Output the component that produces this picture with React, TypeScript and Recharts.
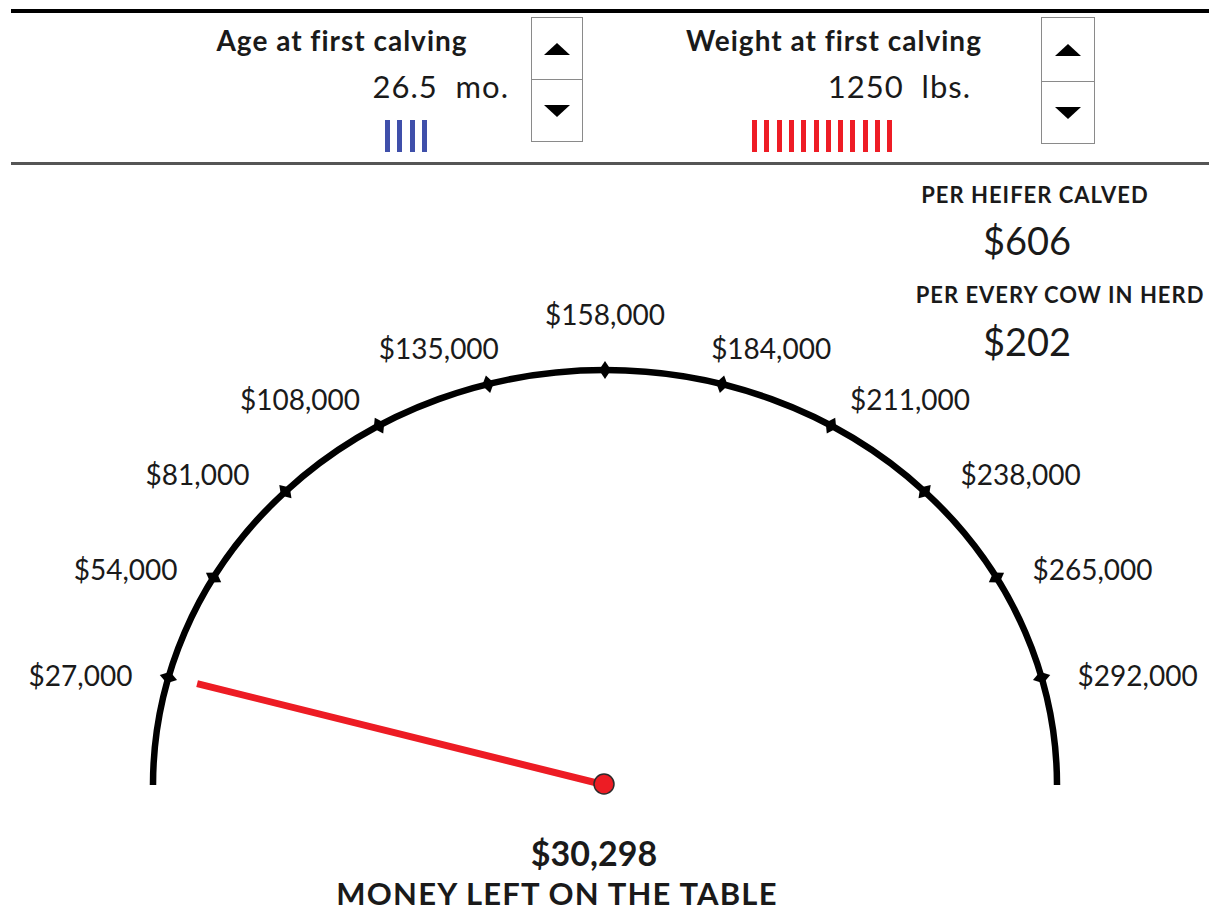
import React from 'react';
import {RadialBarChart, RadialBar, PolarAngleAxis} from 'recharts';

// dial labels, one on each step of the dial (steps 1..11 of 12)
const tickLabels = ['$27,000', '$54,000', '$81,000', '$108,000', '$135,000', '$158,000',
  '$184,000', '$211,000', '$238,000', '$265,000', '$292,000'];
const tickSteps = [1, 2, 3, 4, 5, 6, 7, 8, 9, 10, 11];
const dialSteps = 12;
// where the needle sits on the dial
const needleStep = 1.01;

const moneyLeft = '$30,298';
const perHeifer = '$606';
const perCow = '$202';
const ageValue = '26.5';
const weightValue = '1250';
const ageBars = 4;
const weightBars = 12;

const dialData = [
  {part: 'needle', step: needleStep},
  {part: 'dial', step: dialSteps},
];

const W = 1209;
const H = 912;
const CX = 605;
const CY = 785;
const RX = 452;
const RY = 415;
const FONT = 'Lato, "Open Sans", sans-serif';
const RAD = Math.PI / 180;

const pt = (cx: number, cy: number, a: number, k = 1) =>
  [cx + k * RX * Math.cos(a * RAD), cy - k * RY * Math.sin(a * RAD)];

const DialShape = (props: any) => {
  const cx = props.cx ?? CX;
  const cy = props.cy ?? CY;
  const {startAngle, endAngle, payload} = props;
  if (payload && payload.part === 'dial') {
    const mid = (startAngle + endAngle) / 2;
    const [x0, y0] = pt(cx, cy, startAngle);
    const [x1, y1] = pt(cx, cy, mid);
    const [x2, y2] = pt(cx, cy, endAngle);
    return (
      <path d={`M${x0},${y0} A${RX},${RY} 0 0 1 ${x1},${y1} A${RX},${RY} 0 0 1 ${x2},${y2}`}
            fill="none" stroke="#000" strokeWidth={6.5}/>
    );
  }
  const [nx, ny] = pt(cx, cy, endAngle, 0.935);
  return (
    <g>
      <line x1={cx} y1={cy} x2={nx} y2={ny} stroke="#ED1C24" strokeWidth={7}/>
      <circle cx={cx - 1} cy={cy - 1} r={10} fill="#ED1C24" stroke="#2b2b2b" strokeWidth={1.5}/>
    </g>
  );
};

const DialTick = (props: any) => {
  const {payload, index} = props;
  let a = payload?.coordinate;
  if (typeof a !== 'number') a = Math.atan2(CY - props.y, props.x - CX) / RAD;
  const [x, y] = pt(CX, CY, a);
  const c = Math.cos(a * RAD);
  const s = Math.sin(a * RAD);
  let nx = c / RX, ny = -s / RY;
  const len = Math.hypot(nx, ny);
  nx /= len; ny /= len;
  const tx = -ny, ty = nx;
  const diamond = [
    [x + 9 * nx, y + 9 * ny], [x + 6 * tx, y + 6 * ty],
    [x - 9 * nx, y - 9 * ny], [x - 6 * tx, y - 6 * ty],
  ].map(p => p.join(',')).join(' ');

  let anchor: 'start' | 'middle' | 'end' = 'middle';
  let dx: number;
  let dy = -36 * s * s;
  if (Math.abs(c) < 0.3) {
    dx = 190 * c;
    dy -= 20 * (1 - Math.abs(c) / 0.3);
  } else {
    anchor = c < 0 ? 'end' : 'start';
    dx = Math.sign(c) * (Math.abs(c) < 0.6 ? 19 : 36);
  }
  return (
    <g>
      <polygon points={diamond} fill="#000"/>
      <text x={x + dx} y={y + dy} textAnchor={anchor} dominantBaseline="central"
            fontFamily={FONT} fontSize={28} fill="#1a1a1a">
        {tickLabels[index] ?? ''}
      </text>
    </g>
  );
};

const Txt = ({x, y, anchor = 'middle', size, bold = false, ls = 0, children}: any) => {
  const tx = anchor === 'middle' ? '-50%' : anchor === 'end' ? '-100%' : '0';
  return (
    <div style={{
      position: 'absolute', left: x, top: y, transform: `translate(${tx}, -50%)`,
      fontFamily: FONT, fontSize: size, fontWeight: bold ? 700 : 400, lineHeight: 1,
      letterSpacing: ls, whiteSpace: 'nowrap', color: '#1a1a1a',
    }}>{children}</div>
  );
};

const Spinner = ({x, y, w, h, split}: any) => (
  <div style={{position: 'absolute', left: x, top: y, width: w, height: h,
    border: '1.5px solid #8a8a8a', boxSizing: 'border-box', background: '#fff'}}>
    <div style={{position: 'absolute', left: 0, right: 0, top: split, borderTop: '1.5px solid #8a8a8a'}}/>
    <div style={{position: 'absolute', left: '50%', top: split / 2 - 6, transform: 'translateX(-50%)',
      width: 0, height: 0, borderLeft: '13px solid transparent', borderRight: '13px solid transparent',
      borderBottom: '12px solid #000'}}/>
    <div style={{position: 'absolute', left: '50%', top: split + (h - split) / 2 - 6, transform: 'translateX(-50%)',
      width: 0, height: 0, borderLeft: '13px solid transparent', borderRight: '13px solid transparent',
      borderTop: '12px solid #000'}}/>
  </div>
);

const Bars = ({x, count, color}: any) => (
  <>
    {Array.from({length: count}).map((_, i) => (
      <div key={i} style={{position: 'absolute', left: x + i * 12.3, top: 120, width: 5, height: 32, background: color}}/>
    ))}
  </>
);

const App = () => {
  return (
    <div style={{position: 'absolute', left: 0, top: 0, width: W, height: H, background: '#fff', overflow: 'hidden'}}>
      <div style={{position: 'absolute', left: 11, right: 0, top: 9, height: 4, background: '#000'}}/>
      <div style={{position: 'absolute', left: 11, right: 0, top: 162, height: 3, background: '#555'}}/>

      <Txt x={342} y={40} size={28} bold ls={1}>Age at first calving</Txt>
      <Txt x={509} y={86} anchor="end" size={31} ls={1}>{ageValue}&nbsp; mo.</Txt>
      <Bars x={385} count={ageBars} color="#3F4FAA"/>
      <Spinner x={531} y={17} w={52} h={125} split={61}/>

      <Txt x={834} y={40} size={28} bold ls={1}>Weight at first calving</Txt>
      <Txt x={971} y={86} anchor="end" size={31} ls={1}>{weightValue}&nbsp; lbs.</Txt>
      <Bars x={752} count={weightBars} color="#EE1C25"/>
      <Spinner x={1041} y={17} w={54} h={127} split={63}/>

      <div style={{position: 'absolute', left: 0, top: 0}}>
        <RadialBarChart width={W} height={H} data={dialData} cx={CX} cy={CY}
                        innerRadius={380} outerRadius={RX} startAngle={180} endAngle={0}
                        margin={{top: 0, right: 0, bottom: 0, left: 0}}>
          <PolarAngleAxis type="number" domain={[0, dialSteps]} ticks={tickSteps}
                          axisLine={false} tickLine={false} tick={<DialTick/>}/>
          <RadialBar dataKey="step" isAnimationActive={false} shape={DialShape}/>
        </RadialBarChart>
      </div>

      <Txt x={1035} y={195} size={22} bold ls={1}>PER HEIFER CALVED</Txt>
      <Txt x={1027} y={240} size={38}>{perHeifer}</Txt>
      <Txt x={1060} y={295} size={22} bold ls={1}>PER EVERY COW IN HERD</Txt>
      <Txt x={1027} y={341} size={38}>{perCow}</Txt>

      <Txt x={594} y={853} size={34} bold>{moneyLeft}</Txt>
      <Txt x={557} y={893} size={31} bold ls={1.2}>MONEY LEFT ON THE TABLE</Txt>
    </div>
  );
};

export default App;
